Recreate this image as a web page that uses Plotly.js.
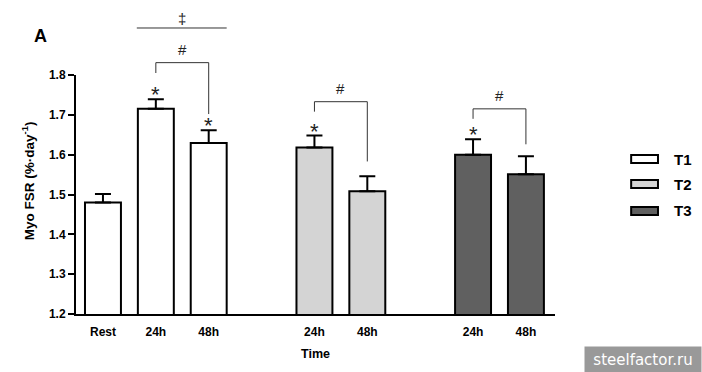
<!DOCTYPE html>
<html>
<head>
<meta charset="utf-8">
<script src="https://cdn.plot.ly/plotly-3.0.1.min.js"></script>
<style>html,body{margin:0;padding:0;background:#fff;}#chart{width:702px;height:372px;}</style>
</head>
<body>
<div id="chart"></div>
<script>
// ---- data ----
const seriesNames = ['T1', 'T2', 'T3'];
const t1Labels = ['Rest', '24h', '48h'];
const t1Values = [1.480, 1.715, 1.629];
const t1Err = [0.021, 0.024, 0.032];
const t2Labels = ['24h', '48h'];
const t2Values = [1.618, 1.508];
const t2Err = [0.030, 0.038];
const t3Labels = ['24h', '48h'];
const t3Values = [1.600, 1.551];
const t3Err = [0.039, 0.045];
const yTicks = [1.2, 1.3, 1.4, 1.5, 1.6, 1.7, 1.8];
// significance marks: '*' over these bars (series index, bar index)
const starBars = [[0, 1], [0, 2], [1, 0], [2, 0]];
// '#' brackets between 24h and 48h in each series: top level, left end, right end
const bracketTop = [1.831, 1.733, 1.715];
const bracketLeft = [1.805, 1.708, 1.690];
const bracketRight = [1.702, 1.583, 1.626];
const daggerLevel = 1.918;

// ---- build ----
const labels = [t1Labels, t2Labels, t3Labels];
const values = [t1Values, t2Values, t3Values];
const errs = [t1Err, t2Err, t3Err];
const fills = ['#ffffff', '#d4d4d4', '#606060'];
const Y0 = 1.2, Y1 = 1.8;
const yp = v => (v - Y0) / (Y1 - Y0);

const positions = [];
let p = 0;
labels.forEach((lab, i) => {
  positions.push(lab.map(() => p++));
  p += 1; // empty slot between groups
});

const traces = labels.map((lab, i) => ({
  type: 'bar',
  name: seriesNames[i],
  x: positions[i],
  y: values[i],
  width: 0.68,
  marker: {color: fills[i], line: {color: '#000', width: 2}},
  error_y: {type: 'data', symmetric: false, array: errs[i], arrayminus: errs[i].map(() => 0),
            color: '#000', thickness: 2, width: 8},
  showlegend: false,
  hoverinfo: 'skip'
}));

const tickvals = [].concat(...positions);
const ticktext = [].concat(...labels);

const shapes = [];
const annotations = [];
const FAM = 'Liberation Sans, Arial, sans-serif';
const fontB = {family: FAM, weight: 'bold', color: '#000'};

// stars
starBars.forEach(([s, b]) => {
  annotations.push({x: positions[s][b], y: values[s][b] + errs[s][b], xref: 'x', yref: 'y',
    text: '*', showarrow: false, yanchor: 'bottom', yshift: -10,
    font: {family: FAM, size: 22, color: '#222'}});
});
// brackets
labels.forEach((lab, s) => {
  const n = lab.length;
  const xa = positions[s][n - 2], xb = positions[s][n - 1];
  shapes.push({type: 'path', xref: 'x', yref: 'paper',
    path: `M ${xa},${yp(bracketLeft[s])} L ${xa},${yp(bracketTop[s])} L ${xb},${yp(bracketTop[s])} L ${xb},${yp(bracketRight[s])}`,
    line: {color: '#333', width: 1}});
  annotations.push({x: (xa + xb) / 2, y: yp(bracketTop[s]), xref: 'x', yref: 'paper',
    text: '#', showarrow: false, yanchor: 'bottom', yshift: 3,
    font: {family: FAM, size: 15, color: '#222'}});
});
// double dagger line over T1 24h-48h
const dx0 = positions[0][1] - 0.36, dx1 = positions[0][2] + 0.34;
shapes.push({type: 'line', xref: 'x', yref: 'paper', x0: dx0, x1: dx1,
  y0: yp(daggerLevel), y1: yp(daggerLevel), line: {color: '#333', width: 1}});
annotations.push({x: (dx0 + dx1) / 2, y: yp(daggerLevel), xref: 'x', yref: 'paper',
  text: '‡', showarrow: false, yanchor: 'bottom', yshift: -1,
  font: {family: FAM, size: 15, color: '#222'}});

// custom legend
const legX0 = 1.159, legX1 = 1.215;
const legY = [159, 184, 211];
seriesNames.forEach((nm, i) => {
  const yc = (314 - legY[i]) / 239;
  const h = 4 / 239;
  shapes.push({type: 'rect', xref: 'paper', yref: 'paper', x0: legX0, x1: legX1,
    y0: yc - h, y1: yc + h, fillcolor: fills[i], line: {color: '#000', width: 2}});
  annotations.push({xref: 'paper', yref: 'paper', x: 1.244, y: yc, text: nm,
    showarrow: false, xanchor: 'left', yanchor: 'middle', font: Object.assign({size: 15}, fontB)});
});

// panel letter, axis titles, watermark
annotations.push({xref: 'paper', yref: 'paper', x: -0.075, y: 1.163, text: 'A', showarrow: false,
  xanchor: 'center', yanchor: 'middle', font: Object.assign({size: 18}, fontB)});
annotations.push({xref: 'paper', yref: 'paper', x: -0.1, y: 0.556, text: 'Myo FSR (%·day<sup>-1</sup>)',
  textangle: -90, showarrow: false, xanchor: 'center', yanchor: 'middle', font: Object.assign({size: 13.5}, fontB)});
annotations.push({xref: 'paper', yref: 'paper', x: 0.5, y: -0.167, text: 'Time', showarrow: false,
  xanchor: 'center', yanchor: 'middle', font: Object.assign({size: 12.5}, fontB)});
annotations.push({xref: 'paper', yref: 'paper', x: 1.184, y: -0.19, text: 'steelfactor.ru', showarrow: false,
  xanchor: 'center', yanchor: 'middle', bgcolor: '#999999', width: 112, height: 21, borderpad: 2,
  font: {family: 'DejaVu Sans, sans-serif', size: 15, color: '#fff'}});

const layout = {
  width: 702, height: 372,
  margin: {l: 76, r: 147, t: 75, b: 58},
  paper_bgcolor: '#fff', plot_bgcolor: '#fff',
  xaxis: {range: [-0.51, 8.55], tickvals: tickvals, ticktext: ticktext, showgrid: false, zeroline: false,
    showline: true, linecolor: '#000', linewidth: 2, ticks: '', ticklabelstandoff: 6,
    tickfont: Object.assign({size: 12}, fontB)},
  yaxis: {range: [Y0, Y1], tickvals: yTicks, ticktext: yTicks.map(v => v.toFixed(1)), showgrid: false, zeroline: false,
    showline: true, linecolor: '#000', linewidth: 2, ticks: 'outside', ticklen: 6, tickwidth: 2, tickcolor: '#000',
    tickfont: Object.assign({size: 12}, fontB)},
  shapes: shapes,
  annotations: annotations,
  showlegend: false,
  bargap: 0
};

Plotly.newPlot('chart', traces, layout, {staticPlot: true, displayModeBar: false});
</script>
</body>
</html>
